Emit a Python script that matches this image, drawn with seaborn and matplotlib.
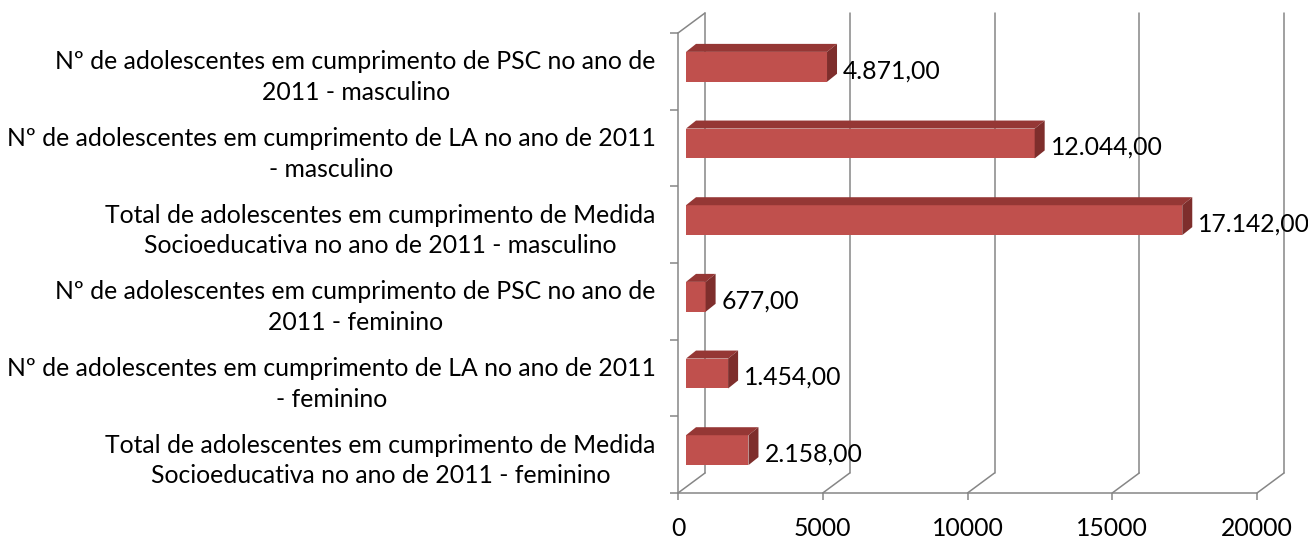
import numpy as np
import pandas as pd
import seaborn as sns
import matplotlib.pyplot as plt
from matplotlib.patches import Polygon
from matplotlib.transforms import ScaledTranslation, IdentityTransform

# dados
categorias = [
    "Nº de adolescentes em cumprimento de PSC no ano de\n2011 - masculino",
    "Nº de adolescentes em cumprimento de LA no ano de 2011\n- masculino",
    "Total de adolescentes em cumprimento de Medida\nSocioeducativa no ano de 2011 - masculino",
    "Nº de adolescentes em cumprimento de PSC no ano de\n2011 - feminino",
    "Nº de adolescentes em cumprimento de LA no ano de 2011\n- feminino",
    "Total de adolescentes em cumprimento de Medida\nSocioeducativa no ano de 2011 - feminino",
]
valores = [4871, 12044, 17142, 677, 1454, 2158]
rotulos = ["4.871,00", "12.044,00", "17.142,00", "677,00", "1.454,00", "2.158,00"]
ticks_x = [0, 5000, 10000, 15000, 20000]

df = pd.DataFrame({"categoria": categorias, "valor": valores})

sns.set_style("white")
plt.rcParams["font.family"] = ["Lato", "DejaVu Sans"]
plt.rcParams["text.color"] = "black"
plt.rcParams["xtick.labelcolor"] = "black"
plt.rcParams["ytick.labelcolor"] = "black"
FS = 17.8
CINZA = "#868686"

fig = plt.figure(figsize=(13.08, 5.4), dpi=100)
ax = fig.add_axes([678 / 1308, 47 / 540, 579 / 1308, 460 / 540])

sns.barplot(data=df, y="categoria", x="valor", orient="h", color="#C0504D",
            saturation=1, width=0.39, ax=ax, zorder=3, linewidth=0)
ax.set_xlim(0, 20000)
ax.set_ylim(5.5, -0.5)
ax.set_xlabel("")
ax.set_ylabel("")
for s in ax.spines.values():
    s.set_visible(False)

# eixos / ticks
ax.set_xticks(ticks_x)
ax.set_xticklabels([str(t) for t in ticks_x], fontsize=FS)
ax.tick_params(axis="x", length=5, width=1.1, color=CINZA, pad=12, bottom=True)
ax.set_yticks(np.arange(-0.5, 6, 1), minor=True)
ax.tick_params(axis="y", which="major", length=0, pad=16, left=True)
ax.tick_params(axis="y", which="minor", length=6, width=1.1, color=CINZA, left=True)
for lab in ax.get_yticklabels():
    lab.set_fontsize(FS)
    lab.set_multialignment("center")
    lab.set_linespacing(1.4)

fig.canvas.draw()

def px(x, y):
    return ax.transData.transform((x, y))

# paredes 3D (fundo deslocado)
prof = np.array([27, 20])
estilo = dict(color=CINZA, lw=1.1, transform=IdentityTransform(), clip_on=False, zorder=1)
for t in ticks_x:
    a = px(t, 5.5)
    b = px(t, -0.5)
    ax.plot([a[0] + prof[0], b[0] + prof[0]], [a[1] + prof[1], b[1] + prof[1]], **estilo)
    ax.plot([a[0], a[0] + prof[0]], [a[1], a[1] + prof[1]], **estilo)
a = px(0, 5.5)
b = px(0, -0.5)
c = px(20000, 5.5)
ax.plot([a[0], b[0]], [a[1], b[1]], **estilo)
ax.plot([a[0], c[0]], [a[1], c[1]], **estilo)
ax.plot([b[0], b[0] + prof[0]], [b[1], b[1] + prof[1]], **estilo)

# barras 3D
desl = np.array([8, 4.5])
dp = np.array([10, 8])
for p in ax.patches:
    x0, y0 = p.get_x(), p.get_y()
    w, h = p.get_width(), p.get_height()
    p.set_transform(ax.transData + ScaledTranslation(desl[0] / 100, desl[1] / 100, fig.dpi_scale_trans))
    L, T = px(x0, y0) + desl
    R, B = px(x0 + w, y0 + h) + desl
    topo = Polygon([(L, T), (R, T), (R + dp[0], T + dp[1]), (L + dp[0], T + dp[1])],
                   closed=True, facecolor="#953735", edgecolor="none",
                   transform=IdentityTransform(), clip_on=False, zorder=3)
    lado = Polygon([(R, B), (R, T), (R + dp[0], T + dp[1]), (R + dp[0], B + dp[1])],
                   closed=True, facecolor="#7E2E2C", edgecolor="none",
                   transform=IdentityTransform(), clip_on=False, zorder=3)
    ax.add_patch(topo)
    ax.add_patch(lado)

# rótulos de dados
for i, (v, r) in enumerate(zip(valores, rotulos)):
    ax.annotate(r, (v, i), xytext=(24 * 0.72, 0.5 * 0.72), textcoords="offset points",
                ha="left", va="center", fontsize=FS, color="black",
                annotation_clip=False, zorder=4)

fig.savefig("out.png", dpi=100)
